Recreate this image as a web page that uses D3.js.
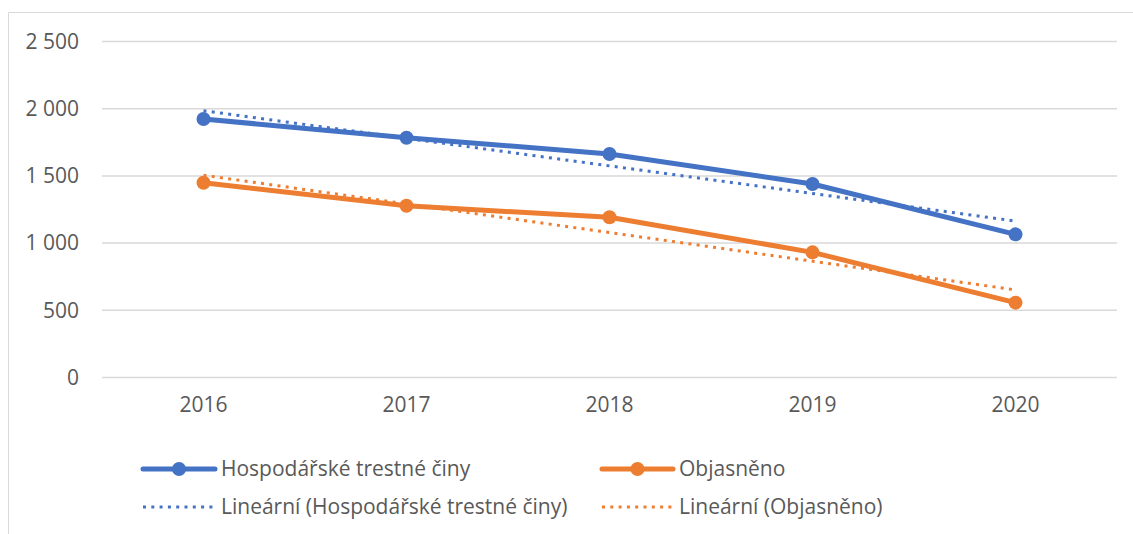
<!DOCTYPE html>
<html><head><meta charset="utf-8">
<script src="https://cdn.jsdelivr.net/npm/d3@7"></script>
<style>
html,body{margin:0;padding:0;background:#fff;}
svg text{font-family:"Open Sans","Lato",sans-serif;fill:#595959;}
</style></head>
<body><svg id="c" width="1133" height="534"></svg>
<script>
const years = ["2016","2017","2018","2019","2020"];
const crimes = [1923, 1784, 1663, 1440, 1065];
const solved = [1449, 1278, 1192, 931, 557];
const trendCrimes = [1985, 1164];   // trend line values at 2016 and 2020
const trendSolved = [1505, 652];
const yTicks = [0, 500, 1000, 1500, 2000, 2500];
const seriesNames = ["Hospodářské trestné činy", "Objasněno"];
const trendNames = ["Lineární (Hospodářské trestné činy)", "Lineární (Objasněno)"];

(function(){
const blue = "#4472C4", orange = "#ED7D31";
const svg = d3.select("#c");
const mLeft = 102, mRight = 1117, mTop = 41.5, mBottom = 377.5;
const fs = "21px";

// chart frame (cropped)
svg.append("path").attr("d", `M8.5,534 V12.5 H1133`).attr("fill","none").attr("stroke","#d9d9d9").attr("stroke-width",1);

const x = d3.scaleBand().domain(years).range([mLeft, mRight]);
const y = d3.scaleLinear().domain([0, 2500]).range([mBottom, mTop]);
const fmt = v => d3.format(",")(v).replace(/,/g, " ");

const grid = svg.append("g");
yTicks.forEach(t => {
  grid.append("line").attr("x1", mLeft).attr("x2", mRight).attr("y1", y(t)).attr("y2", y(t))
    .attr("stroke", "#d9d9d9").attr("stroke-width", 1.5);
});

const yAxis = svg.append("g").attr("transform", `translate(${mLeft},0)`)
  .call(d3.axisLeft(y).tickValues(yTicks).tickFormat(fmt).tickSize(0).tickPadding(23));
yAxis.select(".domain").remove();
yAxis.selectAll("text").style("font-size", fs).attr("fill", "#595959");

const xAxis = svg.append("g").attr("transform", `translate(0,${mBottom})`)
  .call(d3.axisBottom(x).tickSize(0).tickPadding(20));
xAxis.select(".domain").remove();
xAxis.selectAll("text").style("font-size", fs).attr("fill", "#595959");

const cx = d => x(d) + x.bandwidth() / 2;
const line = d3.line().x((d, i) => cx(years[i])).y(d => y(d));

function drawSeries(vals, color) {
  svg.append("path").datum(vals).attr("d", line).attr("fill", "none")
    .attr("stroke", color).attr("stroke-width", 5).attr("stroke-linejoin", "round").attr("stroke-linecap", "round");
  svg.selectAll(null).data(vals).enter().append("circle")
    .attr("cx", (d, i) => cx(years[i])).attr("cy", d => y(d)).attr("r", 7).attr("fill", color);
}
function drawTrend(vals, color) {
  svg.append("line").attr("x1", cx(years[0])).attr("x2", cx(years[years.length - 1]))
    .attr("y1", y(vals[0])).attr("y2", y(vals[1]))
    .attr("stroke", color).attr("stroke-width", 3).attr("stroke-dasharray", "3,5.3");
}
drawSeries(crimes, blue);
drawSeries(solved, orange);
drawTrend(trendCrimes, blue);
drawTrend(trendSolved, orange);

// legend
const lg = svg.append("g");
const legendItems = [
  {x0: 143, x1: 215, y: 469, color: blue, name: seriesNames[0], solid: true},
  {x0: 602, x1: 673, y: 469, color: orange, name: seriesNames[1], solid: true},
  {x0: 143, x1: 215, y: 507, color: blue, name: trendNames[0], solid: false},
  {x0: 602, x1: 673, y: 507, color: orange, name: trendNames[1], solid: false}
];
legendItems.forEach(it => {
  if (it.solid) {
    lg.append("line").attr("x1", it.x0).attr("x2", it.x1).attr("y1", it.y).attr("y2", it.y)
      .attr("stroke", it.color).attr("stroke-width", 5).attr("stroke-linecap", "round");
    lg.append("circle").attr("cx", (it.x0 + it.x1) / 2).attr("cy", it.y).attr("r", 7).attr("fill", it.color);
  } else {
    lg.append("line").attr("x1", it.x0).attr("x2", it.x1 + 2).attr("y1", it.y).attr("y2", it.y)
      .attr("stroke", it.color).attr("stroke-width", 3).attr("stroke-dasharray", "3,5.3");
  }
  lg.append("text").attr("x", it.x1 + 6).attr("y", it.y).attr("dy", "0.35em")
    .style("font-size", fs).text(it.name);
});
})();
</script></body></html>
